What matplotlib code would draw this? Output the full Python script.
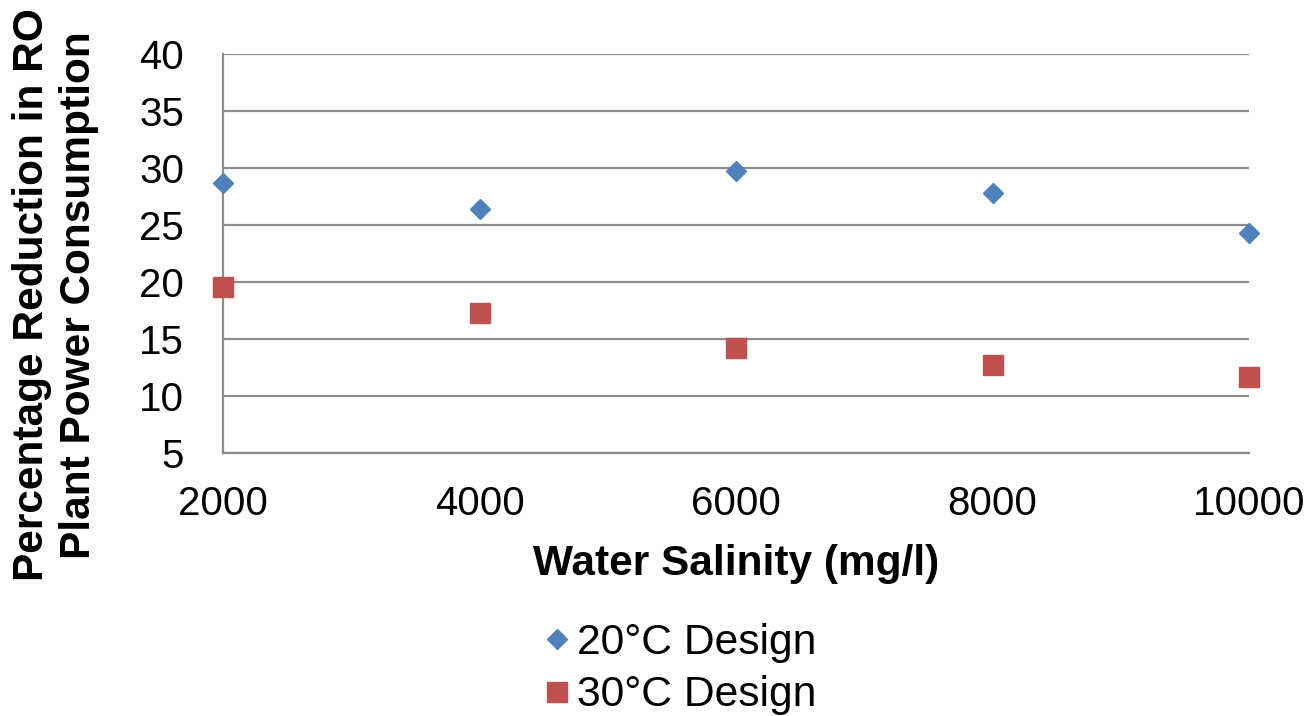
import matplotlib
matplotlib.use('Agg')
from matplotlib import pyplot as plt

salinity = [2000, 4000, 6000, 8000, 10000]
design_20c = [28.7, 26.4, 29.7, 27.8, 24.3]
design_30c = [19.6, 17.3, 14.2, 12.7, 11.7]
y_ticks = [5, 10, 15, 20, 25, 30, 35, 40]

plt.rcParams['font.family'] = ['Liberation Sans', 'DejaVu Sans']

fig = plt.figure(figsize=(13.12, 7.16), dpi=100)
ax = fig.add_axes([0.170, 0.3673, 0.782, 0.5573])

ax.plot(salinity, design_20c, linestyle='none', marker='D', markersize=10.5,
        color='#4F81BD', label='20°C Design', clip_on=False, zorder=3)
ax.plot(salinity, design_30c, linestyle='none', marker='s', markersize=14.5,
        color='#C0504D', label='30°C Design', clip_on=False, zorder=3)

ax.set_xlim(2000, 10000)
ax.set_ylim(5, 40)
ax.set_xticks(salinity)
ax.set_yticks(y_ticks)
ax.tick_params(axis='both', length=0, labelsize=29, colors='black')
ax.tick_params(axis='x', pad=23)
ax.tick_params(axis='y', pad=28)
ax.grid(axis='y', color='#8C8C8C', linewidth=1.6)
ax.set_axisbelow(True)
for side in ['top', 'right']:
    ax.spines[side].set_visible(False)
for side in ['left', 'bottom']:
    ax.spines[side].set_color('#8C8C8C')
    ax.spines[side].set_linewidth(1.6)

ax.set_xlabel('Water Salinity (mg/l)', fontsize=30.5, fontweight='bold', labelpad=15)
fig.text(0.042, 0.588, 'Percentage Reduction in RO\nPlant Power Consumption',
         fontsize=30.5, fontweight='bold', rotation=90, ha='center', va='center',
         linespacing=1.22)

fig.legend(loc='center', bbox_to_anchor=(0.517, 0.0656), frameon=False,
           fontsize=30.7, handletextpad=0.08, labelspacing=0.3, handlelength=0.8,
           borderpad=0)

fig.savefig('out.png', dpi=100)
